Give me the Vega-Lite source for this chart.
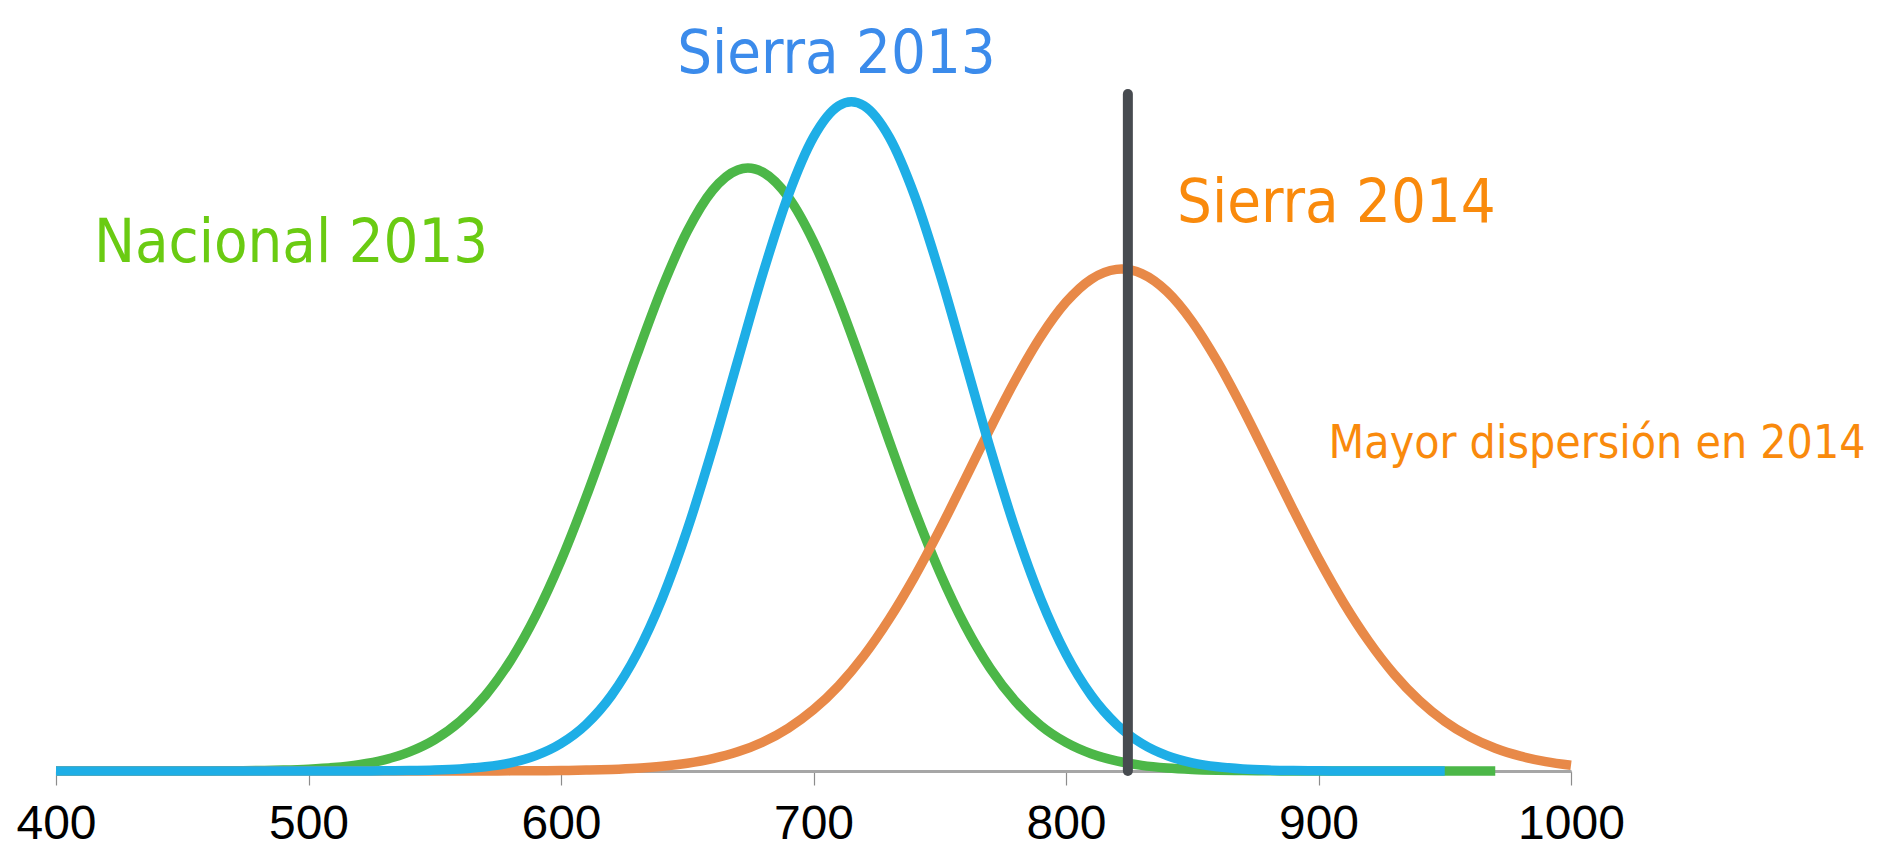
{
  "$schema": "https://vega.github.io/schema/vega-lite/v6.json",
  "width": 1515,
  "height": 771,
  "autosize": {"type": "none"},
  "padding": {"left": 56, "top": 0, "right": 309, "bottom": 76},
  "background": "white",
  "config": {"view": {"stroke": null}},
  "datasets": {
    "nacional2013": [
      {"x": 400, "y": 0}, {"x": 410, "y": 0}, {"x": 420, "y": 0}, {"x": 430, "y": 0},
      {"x": 440, "y": 0.0002}, {"x": 450, "y": 0.0005}, {"x": 460, "y": 0.0012}, {"x": 470, "y": 0.0026},
      {"x": 480, "y": 0.0056}, {"x": 490, "y": 0.0117}, {"x": 500, "y": 0.0232}, {"x": 510, "y": 0.0444},
      {"x": 520, "y": 0.0818}, {"x": 530, "y": 0.145}, {"x": 540, "y": 0.248}, {"x": 550, "y": 0.407},
      {"x": 560, "y": 0.643}, {"x": 570, "y": 0.978}, {"x": 580, "y": 1.432}, {"x": 590, "y": 2.015},
      {"x": 600, "y": 2.728}, {"x": 610, "y": 3.558}, {"x": 620, "y": 4.464}, {"x": 630, "y": 5.39},
      {"x": 640, "y": 6.261}, {"x": 650, "y": 7.0}, {"x": 660, "y": 7.531}, {"x": 670, "y": 7.796},
      {"x": 674, "y": 7.82}, {"x": 680, "y": 7.766}, {"x": 690, "y": 7.445}, {"x": 700, "y": 6.867},
      {"x": 710, "y": 6.096}, {"x": 720, "y": 5.207}, {"x": 730, "y": 4.279}, {"x": 740, "y": 3.385},
      {"x": 750, "y": 2.577}, {"x": 760, "y": 1.887}, {"x": 770, "y": 1.331}, {"x": 780, "y": 0.902},
      {"x": 790, "y": 0.588}, {"x": 800, "y": 0.37}, {"x": 810, "y": 0.223}, {"x": 820, "y": 0.13},
      {"x": 830, "y": 0.0727}, {"x": 840, "y": 0.0391}, {"x": 850, "y": 0.0203}, {"x": 860, "y": 0.0101},
      {"x": 870, "y": 0.0049}, {"x": 880, "y": 0.0022}, {"x": 890, "y": 0.001}, {"x": 900, "y": 0.0004},
      {"x": 910, "y": 0.0002}, {"x": 920, "y": 0.0001}, {"x": 930, "y": 0}, {"x": 940, "y": 0},
      {"x": 950, "y": 0}, {"x": 960, "y": 0}, {"x": 970, "y": 0}
    ],
    "sierra2014": [
      {"x": 400, "y": 0}, {"x": 450, "y": 0}, {"x": 500, "y": 0}, {"x": 530, "y": 0},
      {"x": 540, "y": 0.0001}, {"x": 550, "y": 0.0002}, {"x": 560, "y": 0.0004}, {"x": 570, "y": 0.0008},
      {"x": 580, "y": 0.0017}, {"x": 590, "y": 0.0033}, {"x": 600, "y": 0.0062}, {"x": 610, "y": 0.0114},
      {"x": 620, "y": 0.0205}, {"x": 630, "y": 0.0357}, {"x": 640, "y": 0.0605}, {"x": 650, "y": 0.0998},
      {"x": 660, "y": 0.16}, {"x": 670, "y": 0.249}, {"x": 680, "y": 0.377}, {"x": 690, "y": 0.556},
      {"x": 700, "y": 0.796}, {"x": 710, "y": 1.107}, {"x": 720, "y": 1.498}, {"x": 730, "y": 1.971},
      {"x": 740, "y": 2.518}, {"x": 750, "y": 3.13}, {"x": 760, "y": 3.782}, {"x": 770, "y": 4.444},
      {"x": 780, "y": 5.075}, {"x": 790, "y": 5.634}, {"x": 800, "y": 6.08}, {"x": 810, "y": 6.379},
      {"x": 820, "y": 6.506}, {"x": 822, "y": 6.51}, {"x": 830, "y": 6.451}, {"x": 840, "y": 6.219},
      {"x": 850, "y": 5.828}, {"x": 860, "y": 5.309}, {"x": 870, "y": 4.702}, {"x": 880, "y": 4.048},
      {"x": 890, "y": 3.388}, {"x": 900, "y": 2.756}, {"x": 910, "y": 2.18}, {"x": 920, "y": 1.678},
      {"x": 930, "y": 1.254}, {"x": 940, "y": 0.911}, {"x": 950, "y": 0.644}, {"x": 960, "y": 0.442},
      {"x": 970, "y": 0.295}, {"x": 980, "y": 0.192}, {"x": 990, "y": 0.121}, {"x": 1000, "y": 0.074}
    ],
    "sierra2013": [
      {"x": 400, "y": 0}, {"x": 420, "y": 0}, {"x": 440, "y": 0}, {"x": 460, "y": 0},
      {"x": 480, "y": 0}, {"x": 490, "y": 0}, {"x": 500, "y": 0.0001}, {"x": 510, "y": 0.0003},
      {"x": 520, "y": 0.0009}, {"x": 530, "y": 0.0022}, {"x": 540, "y": 0.0053}, {"x": 550, "y": 0.0121},
      {"x": 560, "y": 0.0262}, {"x": 570, "y": 0.0541}, {"x": 580, "y": 0.106}, {"x": 590, "y": 0.199},
      {"x": 600, "y": 0.356}, {"x": 610, "y": 0.605}, {"x": 620, "y": 0.981}, {"x": 630, "y": 1.516},
      {"x": 640, "y": 2.231}, {"x": 650, "y": 3.128}, {"x": 660, "y": 4.18}, {"x": 670, "y": 5.323},
      {"x": 680, "y": 6.457}, {"x": 690, "y": 7.464}, {"x": 700, "y": 8.221}, {"x": 710, "y": 8.628},
      {"x": 715, "y": 8.68}, {"x": 720, "y": 8.628}, {"x": 730, "y": 8.221}, {"x": 740, "y": 7.464},
      {"x": 750, "y": 6.457}, {"x": 760, "y": 5.323}, {"x": 770, "y": 4.18}, {"x": 780, "y": 3.128},
      {"x": 790, "y": 2.231}, {"x": 800, "y": 1.516}, {"x": 810, "y": 0.981}, {"x": 820, "y": 0.605},
      {"x": 830, "y": 0.356}, {"x": 840, "y": 0.199}, {"x": 850, "y": 0.106}, {"x": 860, "y": 0.0541},
      {"x": 870, "y": 0.0262}, {"x": 880, "y": 0.0121}, {"x": 890, "y": 0.0053}, {"x": 900, "y": 0.0022},
      {"x": 910, "y": 0.0009}, {"x": 920, "y": 0.0003}, {"x": 930, "y": 0.0001}, {"x": 940, "y": 0},
      {"x": 950, "y": 0}
    ],
    "referencia": [{"x": 824.5, "y": 8.78, "y2": 0}],
    "titulos": [
      {"texto": "Sierra 2013", "serie": "Sierra 2013", "x": 646, "y": 9.05},
      {"texto": "Nacional 2013", "serie": "Nacional 2013", "x": 415, "y": 6.6},
      {"texto": "Sierra 2014", "serie": "Sierra 2014", "x": 844, "y": 7.12}
    ],
    "nota": [
      {"texto": "Mayor dispersión en 2014", "serie": "Sierra 2014", "x": 904, "y": 4.06}
    ]
  },
  "encoding": {
    "x": {
      "field": "x",
      "type": "quantitative",
      "scale": {"domain": [400, 1000], "nice": false, "zero": false},
      "axis": {
        "title": null,
        "values": [400, 500, 600, 700, 800, 900, 1000],
        "grid": false,
        "format": "d",
        "domainColor": "#a6a6a6",
        "domainWidth": 3,
        "tickColor": "#8c8c8c",
        "tickWidth": 1.2,
        "tickSize": 14,
        "labelFont": "Liberation Sans",
        "labelFontSize": 48,
        "labelColor": "#000000",
        "labelPadding": 15,
        "labelFlush": false,
        "labelOverlap": false
      }
    },
    "y": {
      "field": "y",
      "type": "quantitative",
      "scale": {"domain": [0, 10], "nice": false, "zero": true},
      "axis": null
    }
  },
  "layer": [
    {
      "data": {"name": "nacional2013"},
      "mark": {"type": "line", "interpolate": "monotone", "strokeWidth": 9.5, "color": "#4cb748", "strokeJoin": "round"}
    },
    {
      "data": {"name": "sierra2014"},
      "mark": {"type": "line", "interpolate": "monotone", "strokeWidth": 9.5, "color": "#e88948", "strokeJoin": "round"}
    },
    {
      "data": {"name": "sierra2013"},
      "mark": {"type": "line", "interpolate": "monotone", "strokeWidth": 9.5, "color": "#1eaee6", "strokeJoin": "round"}
    },
    {
      "data": {"name": "referencia"},
      "mark": {"type": "rule", "strokeWidth": 10, "color": "#474b50", "strokeCap": "round"},
      "encoding": {"y2": {"field": "y2"}}
    },
    {
      "data": {"name": "titulos"},
      "mark": {"type": "text", "align": "left", "baseline": "alphabetic", "font": "DejaVu Sans Condensed, DejaVu Sans, sans-serif", "fontSize": 61},
      "encoding": {
        "text": {"field": "texto"},
        "color": {"field": "serie", "type": "nominal", "scale": {"domain": ["Nacional 2013", "Sierra 2013", "Sierra 2014"], "range": ["#6acb12", "#3b8beb", "#f98a0c"]}, "legend": null}
      }
    },
    {
      "data": {"name": "nota"},
      "mark": {"type": "text", "align": "left", "baseline": "alphabetic", "font": "DejaVu Sans Condensed, DejaVu Sans, sans-serif", "fontSize": 46},
      "encoding": {
        "text": {"field": "texto"},
        "color": {"field": "serie", "type": "nominal", "scale": {"domain": ["Nacional 2013", "Sierra 2013", "Sierra 2014"], "range": ["#6acb12", "#3b8beb", "#f98a0c"]}, "legend": null}
      }
    }
  ]
}
